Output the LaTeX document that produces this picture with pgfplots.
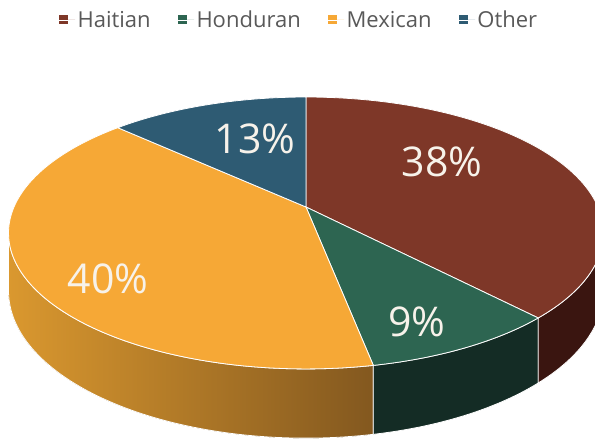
\documentclass[border=0pt]{standalone}
\usepackage{pgfplots}
\pgfplotsset{compat=1.18}
\usepackage{pgfplotstable}
\usepgfplotslibrary{fillbetween}
\usepackage{fontspec}
\setmainfont{Open Sans}
\definecolor{haitian}{HTML}{7E3728}
\definecolor{honduran}{HTML}{2D6551}
\definecolor{mexican}{HTML}{F6A836}
\definecolor{other}{HTML}{2E5B73}
\definecolor{haitianside}{HTML}{3A1510}
\definecolor{hondside}{HTML}{142C25}
\definecolor{mexL}{HTML}{DA982F}
\definecolor{mexR}{HTML}{83581F}
\definecolor{legtext}{HTML}{595959}
\definecolor{lbl}{HTML}{F7F2EA}

% perspective projection of the pie rim (angle #1, depth #2)
\newcommand\PX[1]{(306+292*cos(#1)/(1+0.191*sin(#1)))}
\newcommand\PY[2]{(233+(131*sin(#1)-#2)/(1+0.191*sin(#1)))}

\pgfplotstableread{
group value
Haitian 38
Honduran 9
Mexican 40
Other 13
}\piedata
\pgfplotstablegetelem{0}{value}\of\piedata\let\vA\pgfplotsretval
\pgfplotstablegetelem{1}{value}\of\piedata\let\vB\pgfplotsretval
\pgfplotstablegetelem{2}{value}\of\piedata\let\vC\pgfplotsretval
\pgfplotstablegetelem{3}{value}\of\piedata\let\vD\pgfplotsretval
\pgfmathsetmacro\aA{90}
\pgfmathsetmacro\aB{\aA-3.6*\vA}
\pgfmathsetmacro\aC{\aB-3.6*\vB}
\pgfmathsetmacro\aD{\aC-3.6*\vC}
\pgfmathsetmacro\aE{\aD-3.6*\vD}
\pgfmathsetmacro\silR{asin(-0.191)}
\pgfmathsetmacro\silL{-180-\silR}
\def\depth{56}

\begin{document}
\begin{tikzpicture}
\begin{axis}[
  width=595pt, height=440pt, scale only axis,
  xmin=0, xmax=595, ymin=0, ymax=440,
  hide axis,
  legend image code/.code={\fill[#1, draw=none] (0pt,-4.5pt) rectangle (9pt,4.5pt);\path (0pt,0pt) -- (16pt,0pt);},
  legend style={at={(axis cs:299,420)}, anchor=center, draw=none, fill=none,
    legend columns=-1, font=\fontsize{22}{26}\selectfont, text=legtext,
    /tikz/every even column/.append style={column sep=25pt}},
]
% side walls
\addplot[draw=none, name path=mt, domain=\silL:\aC, samples=80, variable=\t, forget plot] ({\PX{\t}},{\PY{\t}{0}});
\addplot[draw=none, name path=mb, domain=\silL:\aC, samples=80, variable=\t, forget plot] ({\PX{\t}},{\PY{\t}{\depth}});
\addplot[left color=mexL, right color=mexR, draw=white, line width=0.8pt, forget plot] fill between[of=mt and mb];
\addplot[draw=none, name path=ht, domain=\aC:\aB, samples=40, variable=\t, forget plot] ({\PX{\t}},{\PY{\t}{0}});
\addplot[draw=none, name path=hb, domain=\aC:\aB, samples=40, variable=\t, forget plot] ({\PX{\t}},{\PY{\t}{\depth}});
\addplot[fill=hondside, draw=white, line width=0.8pt, forget plot] fill between[of=ht and hb];
\addplot[draw=none, name path=at, domain=\aB:\silR, samples=40, variable=\t, forget plot] ({\PX{\t}},{\PY{\t}{0}});
\addplot[draw=none, name path=ab, domain=\aB:\silR, samples=40, variable=\t, forget plot] ({\PX{\t}},{\PY{\t}{\depth}});
\addplot[fill=haitianside, draw=white, line width=0.8pt, forget plot] fill between[of=at and ab];
% top faces
\addplot[fill=haitian, draw=white, line width=0.8pt, domain=\aB:\aA, samples=120, variable=\t] ({\PX{\t}},{\PY{\t}{0}}) -- (axis cs:306,233) -- cycle;
\addlegendentry{Haitian}
\addplot[fill=honduran, draw=white, line width=0.8pt, domain=\aC:\aB, samples=40, variable=\t] ({\PX{\t}},{\PY{\t}{0}}) -- (axis cs:306,233) -- cycle;
\addlegendentry{Honduran}
\addplot[fill=mexican, draw=white, line width=0.8pt, domain=\aD:\aC, samples=120, variable=\t] ({\PX{\t}},{\PY{\t}{0}}) -- (axis cs:306,233) -- cycle;
\addlegendentry{Mexican}
\addplot[fill=other, draw=white, line width=0.8pt, domain=\aE:\aD, samples=40, variable=\t] ({\PX{\t}},{\PY{\t}{0}}) -- (axis cs:306,233) -- cycle;
\addlegendentry{Other}
% labels
\node[text=lbl, font=\fontsize{41}{41}\selectfont] at (axis cs:442,278) {38\%};
\node[text=lbl, font=\fontsize{41}{41}\selectfont] at (axis cs:417,118) {9\%};
\node[text=lbl, font=\fontsize{41}{41}\selectfont] at (axis cs:108,161) {40\%};
\node[text=lbl, font=\fontsize{41}{41}\selectfont] at (axis cs:255,301) {13\%};
\end{axis}
\end{tikzpicture}
\end{document}
